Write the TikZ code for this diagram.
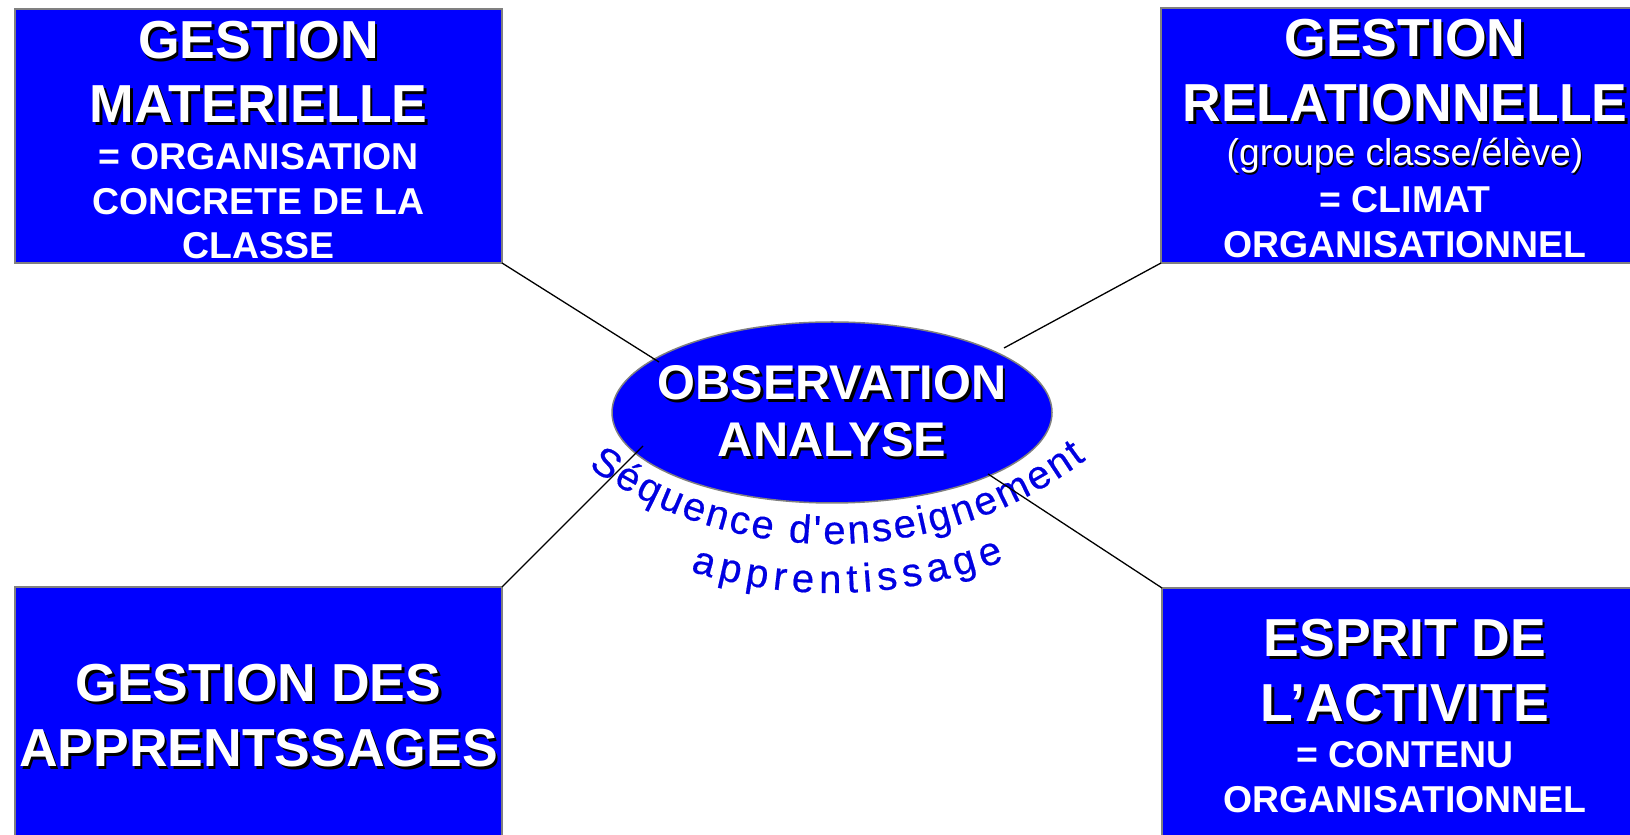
\documentclass[tikz,border=0pt]{standalone}
\usepackage{fontspec}
\usepackage{graphicx}
\setmainfont{Liberation Sans}
\setmonofont{Liberation Sans}[FakeBold=0.5]
\newfontfamily\arcfam{Liberation Sans}[FakeBold=0.5]
\usetikzlibrary{shapes.geometric,calc,decorations.text}
\definecolor{boxblue}{RGB}{0,0,255}
\definecolor{edgegray}{RGB}{128,128,128}
\definecolor{arcblue}{RGB}{0,0,225}
\newcommand{\arcfont}{\arcfam\fontsize{40}{46}\selectfont\color{arcblue}\scalebox{1}[1.18]}
\tikzset{
  panel/.style={draw=edgegray, line width=1.5pt, fill=boxblue, inner sep=0pt, outer sep=0pt},
  hub/.style={ellipse, draw=edgegray, line width=1.5pt, fill=boxblue, minimum width=440pt, minimum height=181pt, inner sep=0pt, outer sep=0pt},
  link/.style={draw=black, line width=1.3pt},
  bigtxt/.style={font=\fontsize{53.5}{62}\selectfont\bfseries, anchor=base, inner sep=0pt},
  midtxt/.style={font=\fontsize{48.7}{56}\selectfont\bfseries, anchor=base, inner sep=0pt},
  subtxt/.style={font=\fontsize{37.4}{43}\selectfont\bfseries, anchor=base, inner sep=0pt, text=white},
  subreg/.style={font=\fontsize{37.3}{43}\selectfont, anchor=base, inner sep=0pt},
  front/.style={text=white},
  shade/.style={text=black},
}
% name, style, x, y, shadow offset, text
\newcommand{\shtext}[6]{%
  \node[#2, shade] (#1s) at (#3+#5, #4-#5) {#6};
  \node[#2, front] (#1) at (#3, #4) {#6};
}
\begin{document}
\begin{tikzpicture}[x=1pt,y=1pt]
\useasboundingbox (0,0) rectangle (1630,835);
\clip (0,0) rectangle (1630,835);

% boxes
\node[panel, minimum width=487pt, minimum height=254pt] (tl) at (258.5,699) {};
\node[panel, minimum width=488pt, minimum height=255pt] (tr) at (1405,699.5) {};
\node[panel, minimum width=487pt, minimum height=273pt] (bl) at (258.5,111.5) {};
\node[panel, minimum width=487pt, minimum height=272pt] (br) at (1405.5,111) {};

% central ellipse
\node[hub] (obs) at (832,422.5) {};

% connector free ends
\coordinate (e1) at (659,473);
\coordinate (e2) at (1004,487);
\coordinate (e3) at (643,389);
\coordinate (e4) at (988,361);

% texts top-left
\shtext{tla}{bigtxt}{258.5}{776}{2.5}{GESTION}
\shtext{tlb}{bigtxt}{258.5}{712}{2.5}{MATERIELLE}
\node[subtxt] (tlc) at (258.5,665) {= ORGANISATION};
\node[subtxt] (tld) at (258.5,620) {CONCRETE DE LA};
\node[subtxt] (tle) at (258.5,576) {CLASSE};

% texts top-right
\shtext{tra}{bigtxt}{1405}{778}{2.5}{GESTION}
\shtext{trb}{bigtxt}{1405}{713}{2.5}{RELATIONNELLE}
\shtext{trc}{subreg}{1405}{669}{1.2}{(groupe classe/élève)}
\node[subtxt] (trd) at (1405,622) {= CLIMAT};
\node[subtxt] (tre) at (1405,577) {ORGANISATIONNEL};

% texts bottom-left
\shtext{bla}{bigtxt}{258.5}{133}{2.5}{GESTION DES}
\shtext{blb}{bigtxt}{258.5}{68}{2.5}{APPRENTSSAGES}

% texts bottom-right
\shtext{bra}{bigtxt}{1405}{178}{2.5}{ESPRIT DE}
\shtext{brb}{bigtxt}{1405}{113}{2.5}{L’ACTIVITE}
\node[subtxt] (brc) at (1405,67) {= CONTENU};
\node[subtxt] (brd) at (1405,22) {ORGANISATIONNEL};

% ellipse text
\shtext{oba}{midtxt}{832}{435}{2.5}{OBSERVATION}
\shtext{obb}{midtxt}{832}{378}{2.5}{ANALYSE}

% curved texts
\coordinate (arcc) at (832,716);
\path[decorate, decoration={text along path, text color=arcblue,
  text={|\arcfont|Séquence d{\ttfamily'}enseignement}, text align={fit to path}}]
  ($(arcc)+(235.0:425)$) arc[start angle=235.0, end angle=306.7, radius=425];
\path[decorate, decoration={text along path, text color=arcblue,
  text={|\arcfont|apprentissage}, text align={fit to path}}]
  ($(arcc)+(252.6:474)$) arc[start angle=252.6, end angle=291.3, radius=474];

% connectors
\draw[link] (tl.south east) -- (e1);
\draw[link] (tr.south west) -- (e2);
\draw[link] (bl.north east) -- (e3);
\draw[link] (e4) -- (br.north west);
\end{tikzpicture}
\end{document}
